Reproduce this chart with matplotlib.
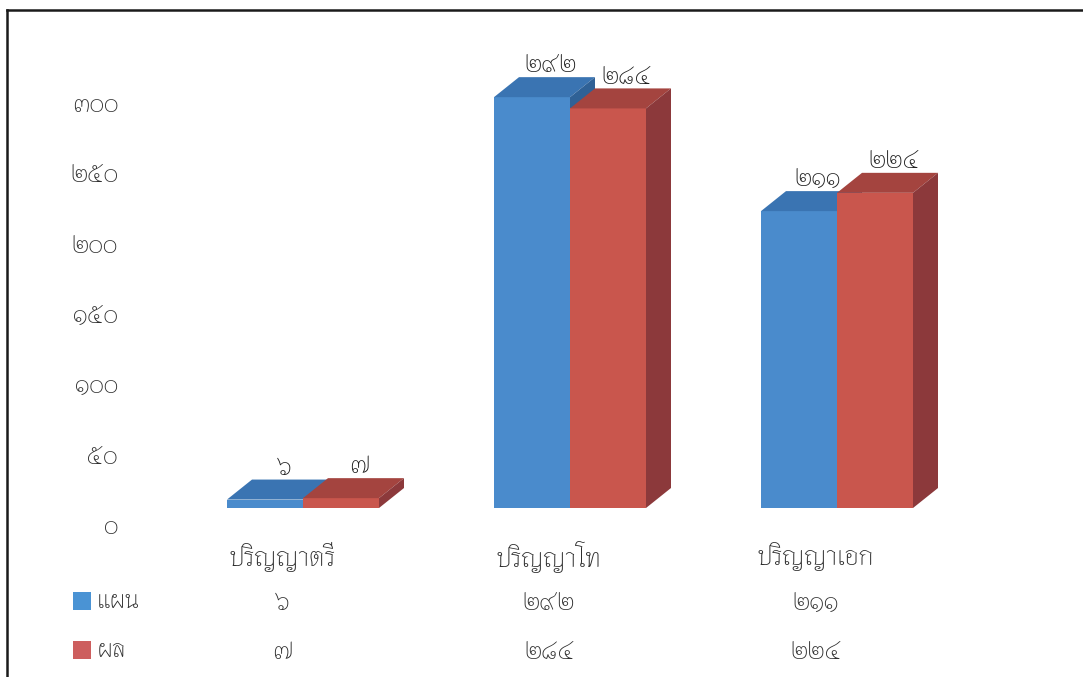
import matplotlib
matplotlib.use("Agg")
import matplotlib.pyplot as plt
from matplotlib.patches import Polygon, Rectangle
from matplotlib.lines import Line2D

# ---- data ----
categories = ["ปริญญาตรี", "ปริญญาโท", "ปริญญาเอก"]
series_names = ["แผน", "ผล"]
plan_values = [6, 292, 211]
result_values = [7, 284, 224]
yticks = [0, 50, 100, 150, 200, 250, 300]

THAI_DIGITS = "๐๑๒๓๔๕๖๗๘๙"
def thai_num(n):
    return "".join(THAI_DIGITS[int(c)] for c in str(n))

FONT = ["Thasadith", "DejaVu Sans"]
TXT = "#2e2e2e"

W_PX, H_PX = 1083, 677
fig = plt.figure(figsize=(W_PX / 100, H_PX / 100), dpi=100)
ax = fig.add_axes([0, 0, 1, 1])
ax.set_axis_off()

# pixel geometry (style)
cx0, cstep = 303.0, 267.0      # x of first category centre, spacing
floor_px, ppu = 508.0, 1.407    # floor pixel row, pixels per unit
ax.set_xlim(-cx0 / cstep, (W_PX - cx0) / cstep)
ax.set_ylim((floor_px - H_PX) / ppu, floor_px / ppu)

w = 76.0 / cstep        # bar width
dx = 25.0 / cstep       # depth offset x
dy = 20.0 / ppu         # depth offset y
lab_dx = 6.0 / cstep    # value label nudge

colors = [
    dict(front="#4A8BCC", top="#3A74B2", side="#2F6196"),
    dict(front="#C9564D", top="#A4443F", side="#8C393B"),
]

series = [plan_values, result_values]
for i in range(len(categories)):
    for s, vals in enumerate(series):
        v = vals[i]
        c = colors[s]
        x0 = i - w + s * w
        x1 = x0 + w
        ax.bar(x0, v, width=w, align="edge", color=c["front"], lw=0, zorder=2 + s)
        ax.add_patch(Polygon([(x0, v), (x1, v), (x1 + dx, v + dy), (x0 + dx, v + dy)],
                             closed=True, color=c["top"], lw=0, zorder=2 + s))
        ax.add_patch(Polygon([(x1, 0), (x1, v), (x1 + dx, v + dy), (x1 + dx, dy)],
                             closed=True, color=c["side"], lw=0, zorder=2 + s))
        ax.text((x0 + x1) / 2 + dx / 2 + lab_dx, v + dy + 0.5, thai_num(v), ha="center",
                va="bottom", fontsize=18, family=FONT, color="#1e1e1e", zorder=10)

# y tick labels (3D back wall offset)
tick_x = (118 - cx0) / cstep
for t in yticks:
    ax.text(tick_x, t - 13.5, thai_num(t), ha="right", va="center",
            fontsize=18, family=FONT, color=TXT)

# data table under the chart
col_off = -21.0 / cstep
def py2v(py):
    return (floor_px - py) / ppu
for i, cat in enumerate(categories):
    ax.text(i + col_off, py2v(557), cat, ha="center", va="center",
            fontsize=19.5, family=FONT, color=TXT)
    ax.text(i + col_off, py2v(603), thai_num(plan_values[i]), ha="center", va="center",
            fontsize=18, family=FONT, color=TXT)
    ax.text(i + col_off, py2v(652), thai_num(result_values[i]), ha="center", va="center",
            fontsize=18, family=FONT, color=TXT)

# legend keys in table
key_cols = ["#4A93D4", "#CD5E5E"]
for k, (name, py) in enumerate(zip(series_names, [601, 650])):
    fig.patches.append(Rectangle((73 / W_PX, (H_PX - py - 9) / H_PX), 18 / W_PX, 18 / H_PX,
                                 transform=fig.transFigure, color=key_cols[k], lw=0))
    fig.text(97 / W_PX, (H_PX - py) / H_PX, name, ha="left", va="center",
             fontsize=18, family=FONT, color=TXT)

# frame lines
fig.lines.append(Line2D([6.5 / W_PX, 6.5 / W_PX], [0, (H_PX - 10) / H_PX], transform=fig.transFigure,
                        color="#1a1a1a", lw=1.8))
fig.lines.append(Line2D([6.5 / W_PX, 1], [(H_PX - 10) / H_PX, (H_PX - 10) / H_PX],
                        transform=fig.transFigure, color="#1a1a1a", lw=1.8))

fig.savefig("out.png", dpi=100)
